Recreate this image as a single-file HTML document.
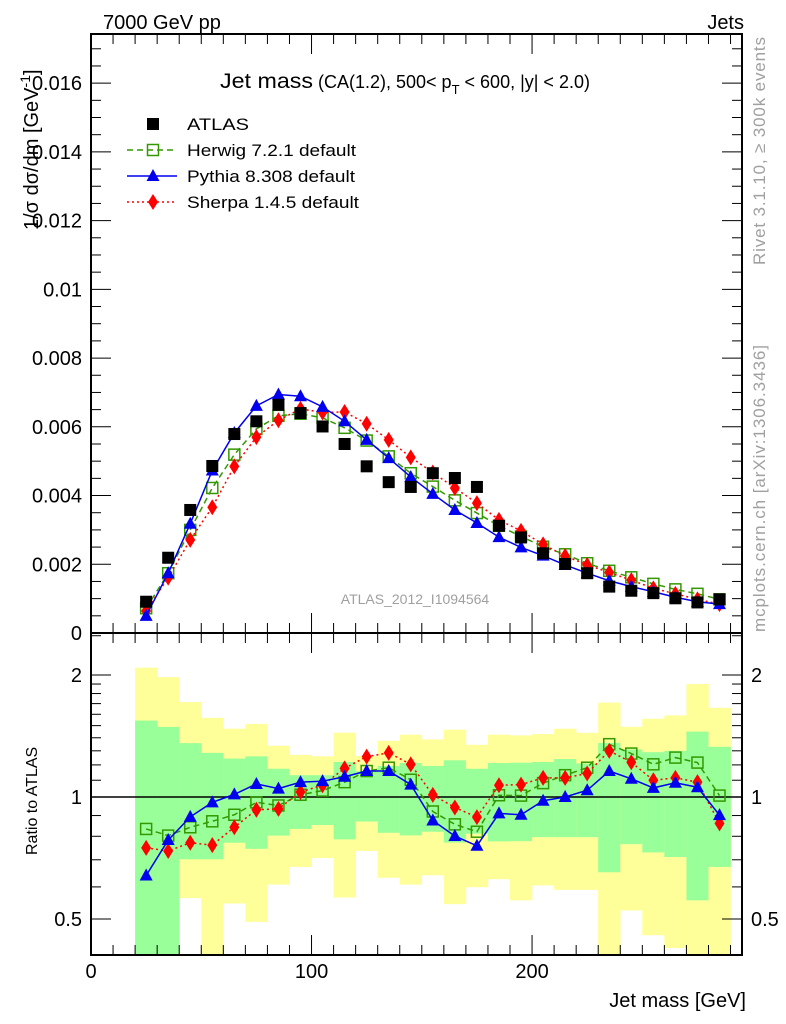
<!DOCTYPE html>
<html><head><meta charset="utf-8"><style>
body{margin:0;background:#fff}
svg{display:block}
text{font-family:"Liberation Sans",sans-serif}
</style></head><body>
<svg id="c" width="786" height="1024" viewBox="0 0 786 1024" xmlns="http://www.w3.org/2000/svg"></svg>
<script>
const centers=[25,35,45,55,65,75,85,95,105,115,125,135,145,155,165,175,185,195,205,215,225,235,245,255,265,275,285];
const atlas=[0.00091,0.00219,0.00358,0.00486,0.00579,0.00616,0.00664,0.0064,0.00601,0.0055,0.00485,0.00439,0.00425,0.00465,0.00451,0.00425,0.00312,0.00278,0.00232,0.00201,0.00174,0.00135,0.00123,0.00116,0.00101,0.00089,0.00098];
const herwig=[0.00072,0.00174,0.0030,0.00422,0.00519,0.00594,0.00632,0.00638,0.00626,0.00597,0.0056,0.00514,0.00465,0.00426,0.00386,0.00349,0.00312,0.00281,0.00251,0.00229,0.00203,0.00181,0.00162,0.00143,0.00127,0.00114,0.00098];
const pythia=[0.0005,0.00174,0.00318,0.00473,0.00582,0.00661,0.00694,0.00689,0.00658,0.00616,0.00562,0.00509,0.00454,0.00405,0.00358,0.0032,0.00279,0.00249,0.00225,0.00198,0.00174,0.00152,0.00135,0.0012,0.00104,0.00091,0.00084];
const sherpa=[0.00064,0.00161,0.00271,0.00366,0.00485,0.0057,0.00619,0.00652,0.00642,0.00643,0.00609,0.00562,0.00511,0.00467,0.00422,0.00378,0.00329,0.00297,0.00258,0.00224,0.00198,0.00176,0.00154,0.0013,0.00114,0.00098,0.00084];
const rHerwig=[0.834,0.803,0.842,0.871,0.904,0.97,0.953,1.013,1.037,1.088,1.159,1.181,1.103,0.921,0.856,0.821,1.01,1.008,1.082,1.132,1.181,1.35,1.28,1.204,1.251,1.216,1.008];
const rPythia=[0.64,0.783,0.893,0.97,1.015,1.077,1.049,1.088,1.094,1.122,1.159,1.159,1.073,0.875,0.801,0.758,0.911,0.904,0.979,1.0,1.039,1.159,1.109,1.053,1.084,1.057,0.902];
const rSherpa=[0.749,0.736,0.771,0.761,0.842,0.93,0.935,1.029,1.069,1.177,1.258,1.285,1.204,1.012,0.942,0.892,1.069,1.073,1.115,1.115,1.143,1.3,1.218,1.1,1.115,1.088,0.861];
const yelHi=[2.085,1.976,1.715,1.568,1.474,1.515,1.338,1.27,1.26,1.441,1.263,1.376,1.425,1.387,1.466,1.345,1.425,1.419,1.43,1.474,1.44,1.71,1.49,1.56,1.59,1.9,1.66];
const grnHi=[1.544,1.489,1.358,1.285,1.244,1.26,1.174,1.132,1.132,1.22,1.159,1.193,1.213,1.193,1.232,1.174,1.213,1.215,1.22,1.241,1.21,1.36,1.31,1.29,1.3,1.45,1.33];
const grnLo=[0.35,0.35,0.702,0.702,0.771,0.745,0.803,0.834,0.853,0.786,0.87,0.816,0.804,0.821,0.772,0.812,0.777,0.778,0.796,0.796,0.796,0.652,0.765,0.73,0.711,0.556,0.672];
const yelLo=[0.35,0.35,0.563,0.405,0.546,0.492,0.608,0.672,0.707,0.565,0.736,0.632,0.608,0.641,0.544,0.599,0.627,0.556,0.605,0.59,0.59,0.35,0.525,0.456,0.424,0.35,0.35];
const yTicks=[0,0.002,0.004,0.006,0.008,0.01,0.012,0.014,0.016];
const yTickLabels=["0","0.002","0.004","0.006","0.008","0.01","0.012","0.014","0.016"];
const xTicks=[0,100,200];
const rTicks=[0.5,1,2];
const binW=10;

const L=91,R=742,T=34,MB=633,RB=955;
const X=v=>L+(v)*(R-L)/295.2;
const Y=v=>MB-v*(MB-T)/0.01743;
const RY=v=>797-Math.log2(v)*122;
const NS="http://www.w3.org/2000/svg";
const svg=document.getElementById('c');
function el(tag,attrs,parent){const e=document.createElementNS(NS,tag);for(const k in attrs)e.setAttribute(k,attrs[k]);(parent||svg).appendChild(e);return e;}
function txt(s,attrs,parent){const e=el('text',attrs,parent);e.textContent=s;return e;}

const clip=el('clipPath',{id:'rc'});el('rect',{x:L,y:MB,width:R-L,height:RB-MB},clip);
const bands=el('g',{'clip-path':'url(#rc)'});


centers.forEach((c,i)=>{
  const x0=X(c-binW/2),x1=X(c+binW/2);
  const y=el('rect',{x:x0,y:RY(yelHi[i]),width:x1-x0+0.3,height:RY(yelLo[i])-RY(yelHi[i]),fill:'#ffff99'},bands);
  
  
  const g=el('rect',{x:x0,y:RY(grnHi[i]),width:x1-x0+0.3,height:RY(grnLo[i])-RY(grnHi[i]),fill:'#99ff99'},bands);
  
  
});
el('line',{x1:L,x2:R,y1:RY(1),y2:RY(1),stroke:'#000','stroke-width':1.5});

el('rect',{x:L,y:T,width:R-L,height:MB-T,fill:'none',stroke:'#000','stroke-width':2});
el('rect',{x:L,y:MB,width:R-L,height:RB-MB,fill:'none',stroke:'#000','stroke-width':2});

for(let v=0;v<=290;v+=10){
  const big=v%100===0, x=X(v);
  const h=big?20:10;
  el('line',{x1:x,x2:x,y1:MB,y2:MB-h,stroke:'#000','stroke-width':1});
  el('line',{x1:x,x2:x,y1:T,y2:T+h,stroke:'#000','stroke-width':1});
  el('line',{x1:x,x2:x,y1:RB,y2:RB-h,stroke:'#000','stroke-width':1});
  el('line',{x1:x,x2:x,y1:MB,y2:MB+h,stroke:'#000','stroke-width':1});
}
xTicks.forEach(v=>{const t=txt(String(v),{x:X(v),y:978,'font-size':20,'text-anchor':'middle'});

});
for(let v=0;v<=0.0174;v+=0.0005){
  const big=Math.round(v/0.0005)%4===0,y=Y(v),h=big?20:10;
  el('line',{x1:L,x2:L+h,y1:y,y2:y,stroke:'#000'});
  el('line',{x1:R,x2:R-h,y1:y,y2:y,stroke:'#000'});
}
yTicks.forEach((v,i)=>{const t=txt(yTickLabels[i],{x:82,y:Y(v)+7,'font-size':20,'text-anchor':'end'});

});
[0.4,0.5,0.6,0.7,0.8,0.9,1,1.1,1.2,1.3,1.4,1.5,1.6,1.7,1.8,1.9,2,2.5].forEach(v=>{
  const y=RY(v),big=rTicks.includes(v),h=big?20:10;
  if(y<MB||y>RB)return;
  el('line',{x1:L,x2:L+h,y1:y,y2:y,stroke:'#000'});
  el('line',{x1:R,x2:R-h,y1:y,y2:y,stroke:'#000'});
});
rTicks.forEach(v=>{
  const a=txt(String(v),{x:82,y:RY(v)+7,'font-size':20,'text-anchor':'end'});
  
  
  const b=txt(String(v),{x:751,y:RY(v)+7,'font-size':20});
  
  
});

function marker(kind,x,y,parent){
  if(kind==='atlas')return el('rect',{x:x-6,y:y-6,width:12,height:12,fill:'#000'},parent);
  if(kind==='herwig')return el('rect',{x:x-5.5,y:y-5.5,width:11,height:11,fill:'none',stroke:'#339900','stroke-width':1.5},parent);
  if(kind==='pythia')return el('polygon',{points:`${x},${y-7} ${x-6.5},${y+5} ${x+6.5},${y+5}`,fill:'#0000ee'},parent);
  return el('polygon',{points:`${x},${y-8} ${x-5},${y} ${x},${y+8} ${x+5},${y}`,fill:'#ff0000'},parent);
}
const styles={herwig:{c:'#339900',d:'6,4'},pythia:{c:'#0000ee',d:''},sherpa:{c:'#ff0000',d:'2,3'}};
function series(kind,vals,yf,name){
  const g=el('g',{});
  
  
  if(kind!=='atlas'){
    const pts=centers.map((c,i)=>X(c)+','+yf(vals[i])).join(' ');
    el('polyline',{points:pts,fill:'none',stroke:styles[kind].c,'stroke-width':1.5,'stroke-dasharray':styles[kind].d},g);
  }
  centers.forEach((c,i)=>{const m=marker(kind,X(c),yf(vals[i]),g);
  
  });
}
series('herwig',herwig,Y,'herwig-series');
series('sherpa',sherpa,Y,'sherpa-series');
series('pythia',pythia,Y,'pythia-series');
series('atlas',atlas,Y,'atlas-data');
series('herwig',rHerwig,RY,'herwig-ratio');
series('sherpa',rSherpa,RY,'sherpa-ratio');
series('pythia',rPythia,RY,'pythia-ratio');

const leg=el('g',{});


[['atlas','ATLAS',124,62],['herwig','Herwig 7.2.1 default',150,169],['pythia','Pythia 8.308 default',176,168],['sherpa','Sherpa 1.4.5 default',202,172]].forEach(([k,l,y,w])=>{
  if(k!=='atlas')el('line',{x1:127,x2:177,y1:y,y2:y,stroke:styles[k].c,'stroke-width':1.5,'stroke-dasharray':styles[k].d},leg);
  marker(k,153,y,leg);
  const t=txt(l,{x:187,y:y+6,'font-size':17,textLength:w,lengthAdjust:'spacingAndGlyphs'},leg);
  
  
});
</script>
<div style="position:absolute;left:0;top:0;width:786px;height:1024px;pointer-events:none">
<svg width="786" height="1024" xmlns="http://www.w3.org/2000/svg" style="position:absolute;left:0;top:0">
<text x="103" y="29" font-size="20" font-family="Liberation Sans">7000 GeV pp</text>
<text x="744" y="29" font-size="20" text-anchor="end" font-family="Liberation Sans">Jets</text>
<text x="220" y="88" font-size="21" textLength="93" lengthAdjust="spacingAndGlyphs" font-family="Liberation Sans">Jet mass</text>
<text x="318" y="88" font-size="18" font-family="Liberation Sans">(CA(1.2), 500&lt; p<tspan font-size="13" dy="6">T</tspan><tspan dy="-6"> &lt; 600, |y| &lt; 2.0)</tspan></text>
<text transform="translate(38,230) rotate(-90)" font-size="20" font-family="Liberation Sans">1/σ dσ/dm [GeV<tspan font-size="14" dy="-8">-1</tspan><tspan dy="8">]</tspan></text>
<text transform="translate(37,855) rotate(-90)" font-size="16" font-family="Liberation Sans">Ratio to ATLAS</text>
<text x="746" y="1007" font-size="20" text-anchor="end" font-family="Liberation Sans">Jet mass [GeV]</text>
<text x="415" y="604" font-size="14" fill="#a0a0a0" text-anchor="middle" font-family="Liberation Sans">ATLAS_2012_I1094564</text>
<text transform="translate(765,265) rotate(-90)" font-size="17" fill="#a0a0a0" textLength="228" font-family="Liberation Sans">Rivet 3.1.10, ≥ 300k events</text>
<text transform="translate(765,632) rotate(-90)" font-size="17" fill="#a0a0a0" textLength="287" font-family="Liberation Sans">mcplots.cern.ch [arXiv:1306.3436]</text>
</svg></div>
</body></html>
